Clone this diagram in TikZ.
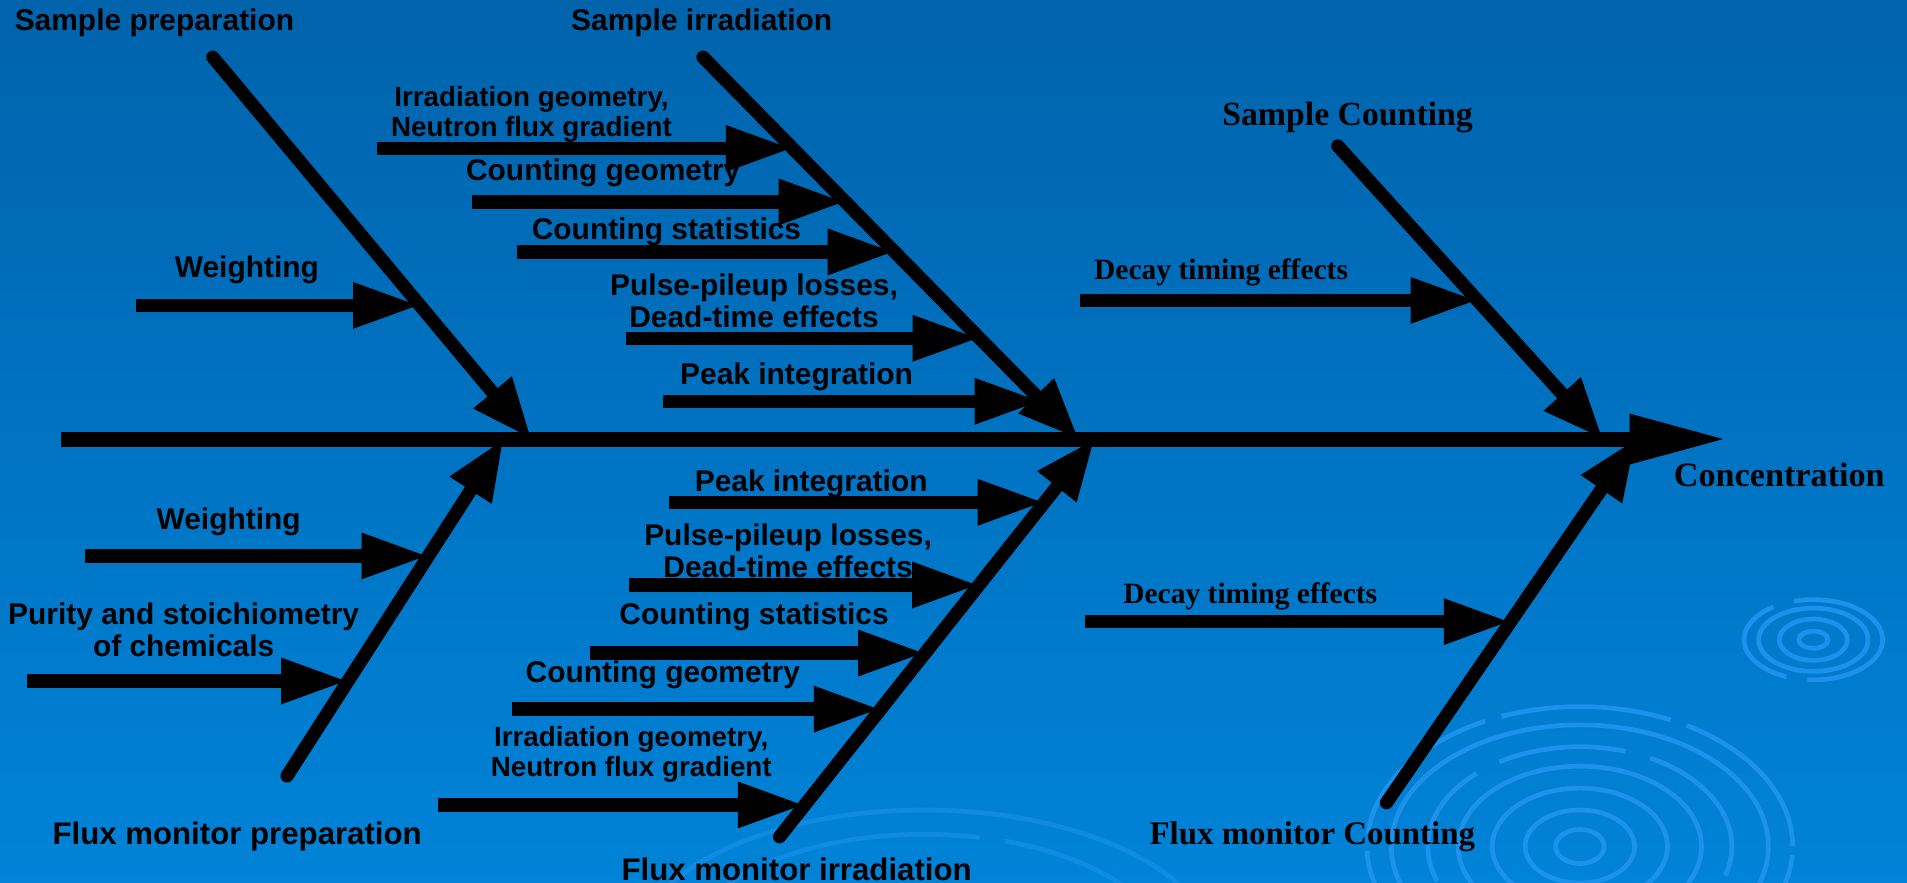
\documentclass[tikz,border=0pt]{standalone}
\usepackage{fontspec}
\setmainfont{Liberation Sans}
\newfontfamily\timesb{Liberation Serif}
\usepackage{tikz}
\usetikzlibrary{arrows.meta}
\usetikzlibrary{calc}

\definecolor{bgtop}{RGB}{0,99,172}
\definecolor{bgbot}{RGB}{0,131,216}
\definecolor{ripple}{RGB}{28,146,236}

\tikzset{
  spine/.style={line width=3.5pt,-{Triangle[length=0.8cm,width=0.38cm]}},
  bone/.style={line width=3.1pt,line cap=round,-{Triangle[length=0.5cm,width=0.38cm]}},
  cause/.style={line width=3.1pt,-{Triangle[length=0.55cm,width=0.35cm]}},
  lbl/.style={inner sep=0pt,align=center,font=\fontsize{7}{6.3}\selectfont\bfseries},
  small lbl/.style={lbl,font=\fontsize{6.5}{5.8}\selectfont\bfseries},
  serif lbl/.style={inner sep=0pt,font=\timesb\fontsize{7.9}{8}\selectfont\bfseries},
  ripple/.style={draw=ripple,line width=1.1pt}
}

\begin{document}
\begin{tikzpicture}[>=latex]
    \useasboundingbox (0,0) rectangle (15.68,7.26);
    \shade[top color=bgtop,bottom color=bgbot] (0,0) rectangle (15.68,7.26);
    % ripples in the background
    \begin{scope}
        \clip (0,0) rectangle (15.68,7.26);
        \draw[ripple,dash pattern=on 40pt off 4pt] (12.99,0.30) ellipse (1.75 and 1.15);
        \draw[ripple] (12.99,0.30) ellipse (1.55 and 1.0);
        \draw[ripple,dash pattern=on 30pt off 6pt] (12.99,0.30) ellipse (1.25 and 0.82);
        \draw[ripple] (12.99,0.30) ellipse (1.0 and 0.66);
        \draw[ripple] (12.99,0.30) ellipse (0.72 and 0.48);
        \draw[ripple] (12.99,0.30) ellipse (0.45 and 0.30);
        \draw[ripple] (12.99,0.30) ellipse (0.2 and 0.14);
        \draw[ripple,dash pattern=on 25pt off 5pt] (14.91,2.00) ellipse (0.57 and 0.33);
        \draw[ripple] (14.91,2.00) ellipse (0.45 and 0.26);
        \draw[ripple] (14.91,2.00) ellipse (0.28 and 0.17);
        \draw[ripple] (14.91,2.00) ellipse (0.12 and 0.07);
        \draw[ripple,opacity=.6] (7.6,-0.6) ellipse (2.4 and 1.2);
        \draw[ripple,opacity=.6,dash pattern=on 50pt off 6pt] (7.6,-0.6) ellipse (2.0 and 1.0);
    \end{scope}

    % main spine
    \coordinate (head) at (0.50,3.65);
    \coordinate (conc) at (14.20,3.65);
    \draw[spine] (head) -- (conc);
    \node[serif lbl,font=\timesb\fontsize{8}{8}\selectfont\bfseries] (concentration) at (14.63,3.36) {Concentration};

    % bones
    \coordinate (sp1) at (1.75,6.79);  \coordinate (sp2) at (4.37,3.65);
    \coordinate (si1) at (5.78,6.79);  \coordinate (si2) at (8.87,3.65);
    \coordinate (sc1) at (11.00,6.06); \coordinate (sc2) at (13.18,3.65);
    \coordinate (fp1) at (2.36,0.88);  \coordinate (fp2) at (4.14,3.65);
    \coordinate (fi1) at (6.41,0.38);  \coordinate (fi2) at (9.00,3.65);
    \coordinate (fc1) at (11.40,0.66); \coordinate (fc2) at (13.45,3.65);
    \draw[bone] (sp1) -- (sp2);
    \draw[bone] (si1) -- (si2);
    \draw[bone] (sc1) -- (sc2);
    \draw[bone] (fp1) -- (fp2);
    \draw[bone] (fi1) -- (fi2);
    \draw[bone] (fc1) -- (fc2);

    \node[lbl] (sampprep) at (1.27,7.07) {Sample preparation};
    \node[lbl] (sampirr) at (5.77,7.07) {Sample irradiation};
    \node[serif lbl] (sampcount) at (11.08,6.29) {Sample Counting};
    \node[lbl,font=\fontsize{7.3}{7}\selectfont\bfseries] (fluxprep) at (1.95,0.38) {Flux monitor preparation};
    \node[lbl,font=\fontsize{7.3}{7}\selectfont\bfseries] (fluxirr) at (6.55,0.11) {Flux monitor irradiation};
    \node[serif lbl,font=\timesb\fontsize{7.7}{8}\selectfont\bfseries] (fluxcount) at (10.79,0.38) {Flux monitor Counting};

    % causes on sample preparation
    \coordinate (t1) at ($(sp1)!0.650!(sp2)$);
    \draw[cause] (t1 -| 1.12,0) -- (t1);
    \node[lbl] (weigh1) at (2.03,5.04) {Weighting};

    % causes on sample irradiation
    \coordinate (t2) at ($(si1)!0.239!(si2)$);
    \coordinate (t3) at ($(si1)!0.379!(si2)$);
    \coordinate (t4) at ($(si1)!0.510!(si2)$);
    \coordinate (t5) at ($(si1)!0.736!(si2)$);
    \coordinate (t6) at ($(si1)!0.901!(si2)$);
    \draw[cause] (t2 -| 3.10,0) -- (t2);
    \draw[cause] (t3 -| 3.88,0) -- (t3);
    \draw[cause] (t4 -| 4.25,0) -- (t4);
    \draw[cause] (t5 -| 5.15,0) -- (t5);
    \draw[cause] (t6 -| 5.45,0) -- (t6);
    \node[small lbl] (irrgeo1) at (4.37,6.32) {Irradiation geometry,\\Neutron flux gradient};
    \node[lbl] (countgeo1) at (4.96,5.84) {Counting geometry};
    \node[lbl] (countstat1) at (5.48,5.35) {Counting statistics};
    \node[lbl] (pileup1) at (6.20,4.79) {Pulse-pileup losses,\\Dead-time effects};
    \node[lbl] (peak1) at (6.55,4.16) {Peak integration};

    % cause on sample counting
    \coordinate (t7) at ($(sc1)!0.527!(sc2)$);
    \draw[cause] (t7 -| 8.88,0) -- (t7);
    \node[serif lbl,font=\timesb\fontsize{6.9}{8}\selectfont\bfseries] (decay1) at (10.04,5.02) {Decay timing effects};

    % causes on flux monitor preparation
    \coordinate (t8) at ($(fp1)!0.653!(fp2)$);
    \coordinate (t9) at ($(fp1)!0.282!(fp2)$);
    \draw[cause] (t8 -| 0.70,0) -- (t8);
    \draw[cause] (t9 -| 0.22,0) -- (t9);
    \node[lbl] (weigh2) at (1.88,2.97) {Weighting};
    \node[lbl] (purity) at (1.51,2.08) {Purity and stoichiometry\\of chemicals};

    % causes on flux monitor irradiation
    \coordinate (t10) at ($(fi1)!0.841!(fi2)$);
    \coordinate (t11) at ($(fi1)!0.633!(fi2)$);
    \coordinate (t12) at ($(fi1)!0.462!(fi2)$);
    \coordinate (t13) at ($(fi1)!0.321!(fi2)$);
    \coordinate (t14) at ($(fi1)!0.080!(fi2)$);
    \draw[cause] (t10 -| 5.50,0) -- (t10);
    \draw[cause] (t11 -| 5.17,0) -- (t11);
    \draw[cause] (t12 -| 4.85,0) -- (t12);
    \draw[cause] (t13 -| 4.21,0) -- (t13);
    \draw[cause] (t14 -| 3.60,0) -- (t14);
    \node[lbl] (peak2) at (6.67,3.28) {Peak integration};
    \node[lbl] (pileup2) at (6.48,2.73) {Pulse-pileup losses,\\Dead-time effects};
    \node[lbl] (countstat2) at (6.20,2.19) {Counting statistics};
    \node[lbl] (countgeo2) at (5.45,1.71) {Counting geometry};
    \node[small lbl] (irrgeo2) at (5.19,1.06) {Irradiation geometry,\\Neutron flux gradient};

    % cause on flux monitor counting
    \coordinate (t15) at ($(fc1)!0.498!(fc2)$);
    \draw[cause] (t15 -| 8.92,0) -- (t15);
    \node[serif lbl,font=\timesb\fontsize{6.9}{8}\selectfont\bfseries] (decay2) at (10.28,2.36) {Decay timing effects};
\end{tikzpicture}
\end{document}
